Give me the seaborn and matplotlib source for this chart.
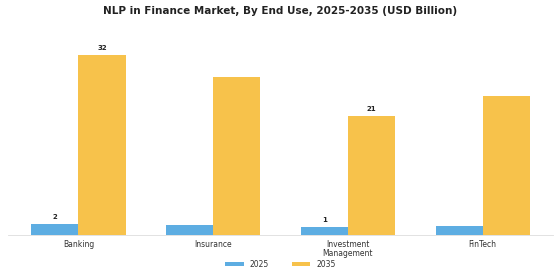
import pandas as pd
import seaborn as sns
import matplotlib.pyplot as plt

# data
categories = ["Banking", "Insurance", "Investment\nManagement", "FinTech"]
years = ["2025", "2035"]
values_2025 = [1.9, 1.75, 1.37, 1.6]
values_2035 = [32.0, 28.1, 21.1, 24.6]
labeled = ["Banking", "Investment\nManagement"]

df = pd.DataFrame({"End Use": categories, "2025": values_2025, "2035": values_2035})
dfm = df.melt("End Use", var_name="Year", value_name="Value")

sns.set_theme(style="white")
plt.rcParams['font.family'] = ['DejaVu Sans']

fig = plt.figure(figsize=(5.6, 2.8), dpi=100)
ax = fig.add_axes([0.015, 0.161, 0.972, 0.71])

palette = {"2025": "#5DADE2", "2035": "#F7C24B"}
sns.barplot(data=dfm, x="End Use", y="Value", hue="Year", palette=palette,
            width=0.7, saturation=1, linewidth=0, ax=ax)

# value labels only on some categories
for cont in ax.containers:
    labels = []
    for bar, cat in zip(cont, categories):
        labels.append(f"{bar.get_height():.0f}" if cat in labeled else "")
    ax.bar_label(cont, labels=labels, fontsize=5, fontweight="bold",
                 padding=3, color="#222222")

ax.set_xlim(-0.52, 3.52)
ax.set_ylim(0, 35.3)
ax.set_xlabel("")
ax.set_ylabel("")
ax.set_yticks([])
ax.tick_params(axis="x", labelsize=5.5, colors="#333333", length=2,
               width=0.5, pad=2)
for lbl in ax.get_xticklabels():
    lbl.set_linespacing(1.0)
for s in ["top", "right", "left"]:
    ax.spines[s].set_visible(False)
ax.spines["bottom"].set_color("#dddddd")
ax.spines["bottom"].set_linewidth(0.6)
for t in ax.xaxis.get_ticklines():
    t.set_color("#bbbbbb")

ax.legend(loc="upper center", bbox_to_anchor=(0.5, -0.09), ncol=2,
          frameon=False, fontsize=5.5, handlelength=2.4, handleheight=0.6,
          columnspacing=3, labelcolor="#333333")

fig.suptitle("NLP in Finance Market, By End Use, 2025-2035 (USD Billion)",
             fontsize=7.5, fontweight="bold", y=0.98, color="#222222")

plt.savefig("out.png", dpi=100)
plt.close()
